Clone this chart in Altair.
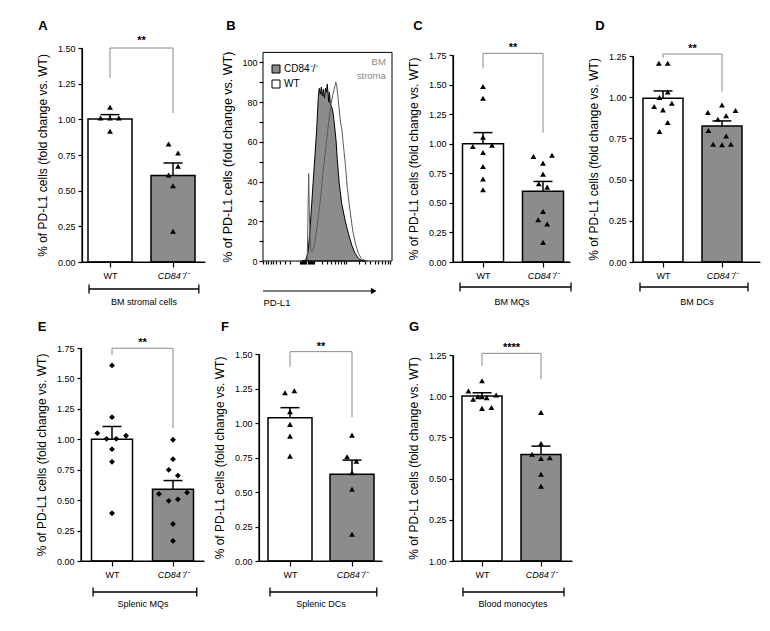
import altair as alt
import pandas as pd

WT, KO = "WT", "CD84⁻/⁻"
groups = [WT, KO]
Y_TITLE = "% of PD-L1 cells (fold change vs. WT)"

# ---------------- Panel A: BM stromal cells ----------------
A_wt = [1.084, 1.009, 1.009, 1.009, 0.916]
A_wt_jit = [0, -0.15, 0, 0.14, 0]
A_ko = [0.827, 0.764, 0.671, 0.610, 0.535, 0.215]
A_ko_jit = [-0.07, 0.08, 0.08, -0.07, 0, 0]
A_mean = [1.002, 0.607]
A_sem = [0.031, 0.087]
A_sig = [1.50, 1.29, 1.044]          # bracket top, WT end, KO end

# ---------------- Panel C: BM MQs ----------------
C_wt = [1.483, 1.384, 1.055, 0.976, 0.988, 0.926, 0.808, 0.701, 0.611]
C_wt_jit = [0, 0, 0, -0.17, 0.15, 0, 0, 0, 0]
C_ko = [0.892, 0.903, 0.836, 0.743, 0.661, 0.633, 0.428, 0.357, 0.321, 0.166]
C_ko_jit = [-0.16, 0.15, 0, 0, -0.07, 0.07, 0, -0.08, 0.07, 0]
C_mean = [0.999, 0.599]
C_sem = [0.095, 0.082]
C_sig = [1.764, 1.637, 1.093]

# ---------------- Panel D: BM DCs ----------------
D_wt = [1.206, 1.206, 1.032, 0.998, 0.943, 0.923, 0.963, 0.846, 0.792]
D_wt_jit = [-0.07, 0.08, 0.08, -0.06, -0.15, 0, 0.15, 0.08, -0.06]
D_ko = [0.953, 0.907, 0.919, 0.887, 0.866, 0.798, 0.765, 0.715, 0.711, 0.715]
D_ko_jit = [0, -0.24, 0.23, 0.07, -0.07, -0.23, 0.07, -0.15, 0, 0.15]
D_mean = [0.994, 0.826]
D_sem = [0.044, 0.030]
D_sig = [1.262, 1.238, 1.033]

# ---------------- Panel E: Splenic MQs ----------------
E_wt = [1.607, 1.182, 1.050, 1.004, 1.004, 1.029, 0.919, 0.815, 0.392]
E_wt_jit = [0, 0, -0.24, -0.09, 0.07, 0.23, 0, 0, 0]
E_ko = [0.996, 0.837, 0.749, 0.702, 0.551, 0.562, 0.494, 0.507, 0.304, 0.165]
E_ko_jit = [0, 0, -0.07, 0.08, -0.23, 0.23, -0.07, 0.08, 0, 0]
E_mean = [1.001, 0.590]
E_sem = [0.104, 0.071]
E_sig = [1.748, 1.693, 1.093]

# ---------------- Panel F: Splenic DCs ----------------
F_wt = [1.219, 1.234, 1.082, 0.990, 0.905, 0.760]
F_wt_jit = [-0.08, 0.07, 0, 0, 0, 0]
F_ko = [0.912, 0.755, 0.723, 0.639, 0.520, 0.194]
F_ko_jit = [0, -0.08, 0.07, 0, 0, 0]
F_mean = [1.038, 0.629]
F_sem = [0.073, 0.102]
F_sig = [1.517, 1.408, 1.042]

# ---------------- Panel G: Blood monocytes ----------------
G_wt = [1.094, 1.031, 0.981, 0.997, 0.991, 1.007, 0.926, 0.932, 0.997]
G_wt_jit = [0, -0.23, -0.15, -0.07, 0.08, 0.24, 0, 0.16, 0]
G_ko = [0.902, 0.713, 0.648, 0.626, 0.622, 0.527, 0.454]
G_ko_jit = [0, 0, -0.15, 0.15, 0, 0, 0]
G_mean = [1.001, 0.646]
G_sem = [0.020, 0.051]
G_sig = [1.260, 1.183, 1.103]

# ---------------- Panel B: PD-L1 histogram (BM stroma) ----------------
B_ko_x = [300, 333, 350, 364, 390, 416, 429, 436, 445, 452, 460, 468, 476, 485, 492, 498,
          505, 509, 515, 522, 529, 540, 553, 566, 576, 591, 610, 636, 661, 688, 713, 739, 765, 790]
B_ko_y = [0, 0.5, 5, 15.6, 40.8, 66, 82.7, 86.9, 84, 87.5, 83, 86.5, 82, 87, 85, 89,
          84, 80, 85, 79, 78, 76, 69, 61, 51, 39, 29, 20.6, 14, 8, 3.9, 1.4, 0.2, 0]
B_wt_x = [333, 343, 348, 354, 359, 364, 372, 380, 395, 416, 442, 467, 494, 514, 529, 540,
          550, 557, 564, 571, 581, 591, 602, 612, 622, 638, 653, 674, 695, 716, 739, 765, 791, 810]
B_wt_y = [0, 0.5, 20, 44, 25, 12, 5, 4.7, 7, 15.6, 29, 45.8, 61, 72.6, 79.4, 83.5,
          86, 88, 90, 88.6, 82.7, 76, 69.3, 66, 59, 49, 37, 25.7, 15.6, 8.9, 3.9, 0.9, 0.2, 0]
B_xticks = [2, 21, 41, 60, 80, 99, 132, 171, 209,
            287, 295, 303, 311, 319, 327, 335, 351, 359, 367, 375, 383, 391, 399,
            455, 494, 527, 558, 584, 607, 626, 641,
            744, 791, 829, 868, 894, 920, 946, 967, 984]

# ---------------- layout ----------------
W, H = 754, 615
FILL = alt.Scale(domain=[KO, WT], range=["#8c8c8c", "#ffffff"])
SIG_COLOR = "#8a8a8a"


def px(v):
    return v - 8


def bar_panel(letter, wt, wt_j, ko, ko_j, mean, sem, sig, stars, ymax, label, shape, lay,
              span, zero_label=None):
    xa, xe, c1, c2, hw, yb, yt, brk_y, lx, ly, star_dy = lay
    unit = c2 - c1
    lo, hi = 1 - (c1 - xa) / unit, 2 + (xe - c2) / unit
    xs = alt.Scale(domain=[lo, hi], range=[px(xa), px(xe)], nice=False, zero=False)
    ys = alt.Scale(domain=[0, ymax], range=[px(yb), px(yt)], nice=False, zero=False)

    yvals = [round(i * 0.25, 2) for i in range(int(round(ymax / 0.25)) + 1)]
    if zero_label:
        ylab = f"datum.value == 0 ? '{zero_label}' : format(datum.value, '.2f')"
    else:
        ylab = "format(datum.value, '.2f')"
    yaxis = alt.Axis(orient="left", offset=-px(xa), values=yvals, labelExpr=ylab, domain=True,
                     tickSize=4, labelPadding=3, labelFontSize=9, grid=False,
                     title=Y_TITLE, titleFontSize=12, titleFontWeight="normal",
                     titlePadding=8)
    xaxis = alt.Axis(orient="bottom", offset=px(yb) - H, values=[1, 2], domain=True,
                     labelExpr=f"datum.value == 1 ? '{WT}' : '{KO}'",
                     labelFontStyle={"condition": {"test": "datum.value == 2", "value": "italic"},
                                     "value": "normal"},
                     tickSize=5, labelPadding=4, labelFontSize=9, labelFlush=False,
                     grid=False, title=label, titleFontSize=9, titleFontWeight="normal",
                     titlePadding=17 if yb < 400 else 20)

    bdf = pd.DataFrame({"g": groups, "pos": [1, 2], "mean": mean, "sem": sem})
    bdf["x0"] = bdf["pos"] - hw / unit
    bdf["x1"] = bdf["pos"] + hw / unit
    bdf["top"] = bdf["mean"] + bdf["sem"]
    bdf["zero"] = 0.0

    pdf = pd.DataFrame({"x": [1 + j for j in wt_j] + [2 + j for j in ko_j],
                        "v": wt + ko})
    sdf = pd.DataFrame({"o": [0, 1, 2, 3], "x": [1, 1, 2, 2],
                        "y": [sig[1], sig[0], sig[0], sig[2]]})

    X = lambda f: alt.X(f, scale=xs, axis=None)
    Y = lambda f: alt.Y(f, scale=ys, axis=None)

    rect = alt.Chart(bdf).mark_rect(stroke="black", strokeWidth=1.5).encode(
        x=alt.X("x0:Q", scale=xs, axis=xaxis), x2="x1:Q",
        y=alt.Y("mean:Q", scale=ys, axis=yaxis), y2="zero:Q",
        fill=alt.Fill("g:N", scale=FILL, legend=None))
    # axis lines (drawn through the panel's own scales)
    frame = pd.DataFrame({"x0": [lo, lo], "x1": [lo, hi], "y0": [0.0, 0.0], "y1": [ymax, 0.0]})
    axl = alt.Chart(frame).mark_rule(color="black", strokeWidth=1.2).encode(
        x=X("x0:Q"), x2="x1:Q", y=Y("y0:Q"), y2="y1:Q")
    err = alt.Chart(bdf).mark_rule(color="black", strokeWidth=1.5).encode(
        x=X("pos:Q"), y=Y("mean:Q"), y2="top:Q")
    cap = alt.Chart(bdf).mark_tick(orient="horizontal", color="black", thickness=1.5,
                                   size=19, opacity=1).encode(x=X("pos:Q"), y=Y("top:Q"))
    pts = alt.Chart(pdf).mark_point(shape=shape, filled=True, color="black", size=34,
                                    opacity=1).encode(x=X("x:Q"), y=Y("v:Q"))
    sigl = alt.Chart(sdf).mark_line(color=SIG_COLOR, strokeWidth=1).encode(
        x=X("x:Q"), y=Y("y:Q"), order="o:Q")
    st = alt.Chart(pd.DataFrame({"x": [1.5], "y": [sig[0]], "t": [stars]})).mark_text(
        fontSize=11, fontWeight="bold", baseline="alphabetic", dy=star_dy, color="black"
    ).encode(x=X("x:Q"), y=Y("y:Q"), text="t:N")
    brk = alt.Chart(pd.DataFrame({"a": [span[0]], "b": [span[1]]})).mark_rule(
        color="black", strokeWidth=1.3).encode(x=X("a:Q"), x2="b:Q", y=alt.value(px(brk_y)))
    brc = alt.Chart(pd.DataFrame({"a": span})).mark_rule(color="black", strokeWidth=1.3).encode(
        x=X("a:Q"), y=alt.value(px(brk_y) - 4.5), y2=alt.value(px(brk_y) + 4.5))
    let = alt.Chart(pd.DataFrame({"t": [letter]})).mark_text(
        fontSize=13, fontWeight="bold", align="center", baseline="middle", color="black"
    ).encode(text="t:N", x=alt.value(px(lx)), y=alt.value(px(ly)))
    return [rect, axl, err, cap, pts, sigl, st, brk, brc, let]


# ---- Panel B ----
def hist_panel():
    bx = alt.Scale(domain=[0, 1000], range=[px(263), px(392)], nice=False, zero=False)
    by = alt.Scale(domain=[0, 105], range=[px(261), px(52.4)], nice=False, zero=False)
    yaxis = alt.Axis(orient="left", offset=-px(263), values=list(range(0, 101, 10)),
                     labelExpr="datum.value % 20 == 0 ? datum.label : ''",
                     tickSize=4, labelPadding=2, labelFontSize=9, domain=False, grid=False,
                     title=Y_TITLE, titleFontSize=12.5, titleFontWeight="normal",
                     titlePadding=7)
    xaxis = alt.Axis(orient="bottom", offset=px(261) - H, values=B_xticks, labels=False,
                     domain=False, grid=False, tickSize=3,
                     title="PD-L1", titleAnchor="start", titleFontSize=9.5,
                     titleFontWeight="normal", titlePadding=33)
    wdf = pd.DataFrame({"u": B_wt_x, "p": B_wt_y, "g": WT})
    kdf = pd.DataFrame({"u": B_ko_x, "p": B_ko_y, "g": KO})
    X = lambda f: alt.X(f, scale=bx, axis=None)
    Y = lambda f: alt.Y(f, scale=by, axis=None)
    legend = alt.Legend(orient="none", legendX=px(271), legendY=px(64), title=None,
                        symbolType="square", symbolSize=64, symbolStrokeColor="black",
                        symbolStrokeWidth=1, labelFontSize=10, labelOffset=3, rowPadding=3,
                        padding=0, symbolOffset=0, labelColor="black")
    wt_area = alt.Chart(wdf).mark_area(opacity=1).encode(
        x=alt.X("u:Q", scale=bx, axis=xaxis), y=alt.Y("p:Q", scale=by, axis=yaxis),
        fill=alt.Fill("g:N", scale=FILL, legend=legend))
    ko_area = alt.Chart(kdf).mark_area(stroke="black", strokeWidth=1, opacity=1).encode(
        x=X("u:Q"), y=Y("p:Q"), fill=alt.Fill("g:N", scale=FILL, legend=legend))
    wt_line = alt.Chart(wdf).mark_line(color="#5a5a5a", strokeWidth=1).encode(
        x=X("u:Q"), y=Y("p:Q"))
    frame = alt.Chart(pd.DataFrame({"a": [0], "b": [1000], "c": [0], "d": [105]})).mark_rect(
        fillOpacity=0, stroke="black", strokeWidth=1).encode(
        x=X("a:Q"), x2="b:Q", y=Y("c:Q"), y2="d:Q")
    arrow = alt.Chart(pd.DataFrame({"a": [0], "b": [858]})).mark_rule(
        color="black", strokeWidth=1.2).encode(x=X("a:Q"), x2="b:Q", y=alt.value(px(291)))
    head = alt.Chart(pd.DataFrame({"a": [858]})).mark_point(
        shape="triangle-right", filled=True, color="black", size=40, opacity=1).encode(
        x=X("a:Q"), y=alt.value(px(291)))
    txt = alt.Chart(pd.DataFrame({"x": [952], "y": [102.5], "t": ["BM\nstroma"]})).mark_text(
        align="right", baseline="top", fontSize=9.5, color="#8a8a8a", lineBreak="\n",
        lineHeight=14).encode(x=X("x:Q"), y=Y("y:Q"), text="t:N")
    let = alt.Chart(pd.DataFrame({"t": ["B"]})).mark_text(
        fontSize=13, fontWeight="bold", align="center", baseline="middle", color="black"
    ).encode(text="t:N", x=alt.value(px(231)), y=alt.value(px(26)))
    return [wt_area, ko_area, wt_line, frame, arrow, head, txt, let]


# lay = (x axis, x end, WT centre, KO centre, bar half width, y bottom, y top,
#        group bracket y, letter x, letter y, star dy)
pA = bar_panel("A", A_wt, A_wt_jit, A_ko, A_ko_jit, A_mean, A_sem, A_sig, "**", 1.5,
               "BM stromal cells", "triangle-up",
               (82, 205, 110, 173, 22, 262, 48, 289, 43, 26, -4), (0.667, 2.41))
pB = hist_panel()
pC = bar_panel("C", C_wt, C_wt_jit, C_ko, C_ko_jit, C_mean, C_sem, C_sig, "**", 1.75,
               "BM MQs", "triangle-up",
               (453, 570, 483, 543, 20.5, 262, 55, 287, 418, 26, -2), (0.617, 2.467))
pD = bar_panel("D", D_wt, D_wt_jit, D_ko, D_ko_jit, D_mean, D_sem, D_sig, "**", 1.25,
               "BM DCs", "triangle-up",
               (633, 760, 663, 722, 20, 262, 56, 287, 600, 26, -2), (0.61, 2.44))
pE = bar_panel("E", E_wt, E_wt_jit, E_ko, E_ko_jit, E_mean, E_sem, E_sig, "**", 1.75,
               "Splenic MQs", "diamond",
               (81, 204, 112, 173, 20.5, 561, 348, 592, 42, 327, -2), (0.69, 2.39))
pF = bar_panel("F", F_wt, F_wt_jit, F_ko, F_ko_jit, F_mean, F_sem, F_sig, "**", 1.5,
               "Splenic DCs", "triangle-up",
               (259, 382, 290, 352, 22, 561, 354, 592, 225, 327, -2), (0.677, 2.40))
pG = bar_panel("G", G_wt, G_wt_jit, G_ko, G_ko_jit, G_mean, G_sem, G_sig, "****", 1.25,
               "Blood monocytes", "triangle-up",
               (453, 572, 482, 541, 20, 561, 355, 592, 414, 327, -2), (0.678, 2.39),
               zero_label="1.00")

# panel B first so that its explicit legend wins the merge of the shared fill scale
chart = alt.layer(*(pB + pA + pC + pD + pE + pF + pG)).resolve_scale(
    x="independent", y="independent"
).properties(
    width=W, height=H, autosize=alt.AutoSizeParams(type="none"), padding=0
).configure(
    font="Liberation Sans"
).configure_view(
    stroke=None
).configure_axis(
    domainColor="black", domainWidth=1.2, tickColor="black", tickWidth=1.2,
    labelColor="black", titleColor="black", labelFont="Liberation Sans",
    titleFont="Liberation Sans"
)

chart.save("out.html", embed_options={"renderer": "svg", "actions": False})
